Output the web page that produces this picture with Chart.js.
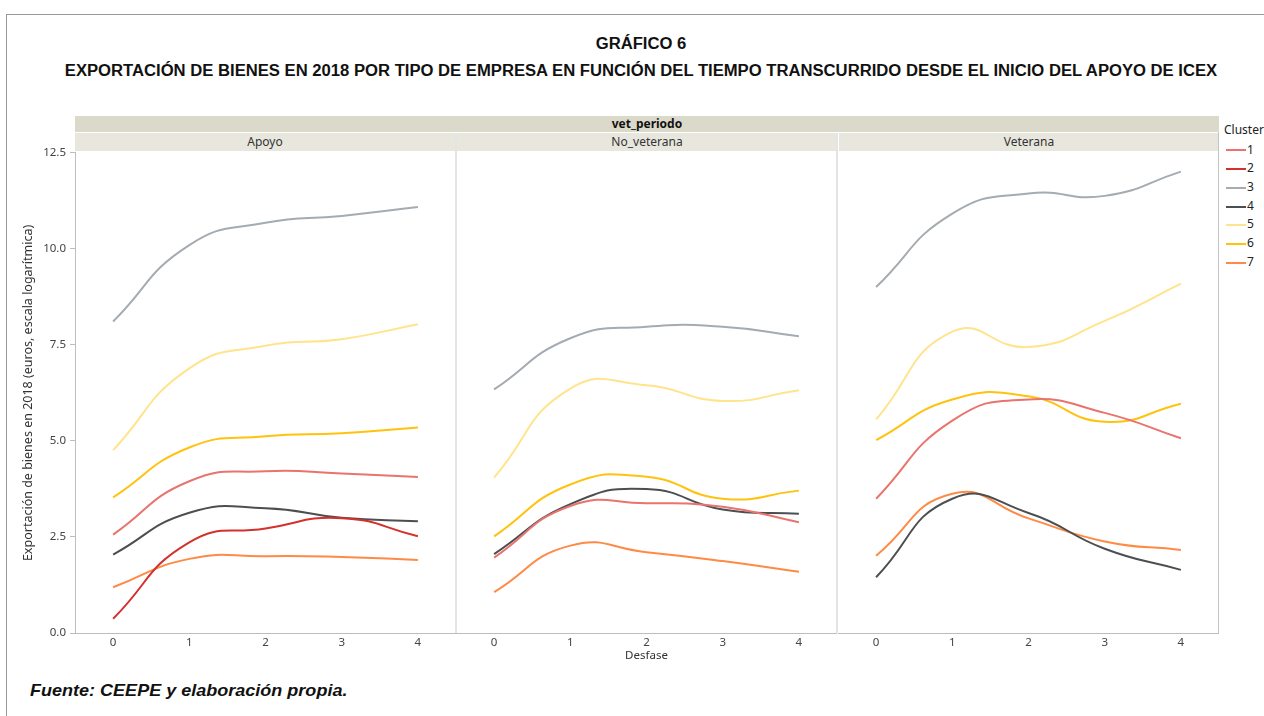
<!DOCTYPE html>
<html>
<head>
<meta charset="utf-8">
<script src="https://cdn.jsdelivr.net/npm/chart.js@4"></script>
<style>
  body { margin: 0; width: 1264px; height: 716px; background: #fff; overflow: hidden; position: relative; font-family: 'Noto Sans', sans-serif; }
  .frame { position: absolute; left: 6px; top: 14px; width: 1270px; height: 720px; border-left: 1px solid #9a9a9a; border-top: 1px solid #9a9a9a; }
  .t1, .t2 { position: absolute; left: 0; width: 1282px; text-align: center; font-family: 'Liberation Sans', Arial, sans-serif; font-weight: bold; color: #111; white-space: nowrap; }
  .t1 { top: 35px; font-size: 16px; transform: scaleX(1.04); }
  .t2 { top: 62px; font-size: 16px; transform: scaleX(1.04); }
  .src { position: absolute; left: 30px; top: 681px; font-family: 'Liberation Sans', Arial, sans-serif; font-weight: bold; font-style: italic; font-size: 17px; color: #111; transform: scaleX(1.06); transform-origin: left center; }
  .strip-top { position: absolute; left: 75px; top: 116px; width: 1144px; height: 16px; background: #dbd9ca; font-size: 12px; font-weight: bold; text-align: center; line-height: 16px; color: #111; }
  .strip { position: absolute; top: 133px; height: 18px; background: #e8e7de; font-size: 12px; text-align: center; line-height: 18px; color: #333; }
  .panel { position: absolute; top: 142px; }
  .sep { position: absolute; top: 133px; width: 2px; height: 500px; background: #e4e4e4; }
  .legend { position: absolute; left: 1224px; top: 121px; font-size: 12px; color: #222; }
  .legend .row { height: 18.7px; line-height: 18.7px; white-space: nowrap; }
  .legend .sw { display: inline-block; width: 20px; height: 2px; vertical-align: middle; margin-left: 2px; margin-right: 1px; }
</style>
</head>
<body>
<div class="frame"></div>
<div class="t1">GRÁFICO 6</div>
<div class="t2">EXPORTACIÓN DE BIENES EN 2018 POR TIPO DE EMPRESA EN FUNCIÓN DEL TIEMPO TRANSCURRIDO DESDE EL INICIO DEL APOYO DE ICEX</div>
<div class="strip-top">vet_periodo</div>
<div id="strips"></div>
<div id="panels"></div>
<div class="sep" style="left:455px"></div>
<div class="sep" style="left:836px"></div>
<div class="sep" style="left:1218px; width:1px; background:#c4c4c4; top:132px; height:502px"></div>
<div class="legend" id="legend"></div>
<div class="src">Fuente: CEEPE y elaboración propia.</div>
<script>
const desfase = ['0', '1', '2', '3', '4'];
const clusters = ['1', '2', '3', '4', '5', '6', '7'];
const panels = ['Apoyo', 'No_veterana', 'Veterana'];

// values per cluster (1..7), null where the cluster has no line in that panel
const apoyo = [
  [2.56, 3.95, 4.21, 4.15, 4.06],
  [0.37, 2.36, 2.72, 2.99, 2.52],
  [8.11, 10.10, 10.68, 10.86, 11.09],
  [2.04, 3.13, 3.25, 3.00, 2.91],
  [4.76, 6.89, 7.48, 7.65, 8.04],
  [3.53, 4.83, 5.12, 5.20, 5.35],
  [1.19, 1.93, 2.00, 1.98, 1.90]
];
const noVeterana = [
  [1.96, 3.30, 3.37, 3.28, 2.88],
  null,
  [6.33, 7.66, 7.96, 7.96, 7.71],
  [2.05, 3.35, 3.74, 3.21, 3.10],
  [4.04, 6.35, 6.44, 6.03, 6.31],
  [2.51, 3.86, 4.06, 3.49, 3.70],
  [1.06, 2.27, 2.10, 1.87, 1.59]
];
const veterana = [
  [3.49, 5.52, 6.07, 5.72, 5.06],
  null,
  [8.99, 10.90, 11.42, 11.36, 11.99],
  [1.45, 3.49, 3.12, 2.19, 1.64],
  [5.55, 7.83, 7.43, 8.11, 9.08],
  [5.01, 6.07, 6.15, 5.49, 5.96],
  [2.01, 3.62, 2.98, 2.38, 2.16]
];
const yTicks = [0, 2.5, 5, 7.5, 10, 12.5];

const colors = ['#e9736d', '#d4302c', '#a4abb1', '#4b4f52', '#ffe48c', '#ffc20e', '#ff8a45'];
const panelData = [apoyo, noVeterana, veterana];
const panelLeft = [0, 456, 838];
const panelWidth = [456, 381, 381];
const tickFont = { family: 'Noto Sans', size: 11.5 };

document.getElementById('legend').innerHTML = '<div class="row" style="margin-bottom:1px">Cluster</div>' +
  clusters.map((c, k) => `<div class="row"><span class="sw" style="background:${colors[k]}"></span>${c}</div>`).join('');

document.getElementById('strips').innerHTML = panels.map((p, i) => {
  const left = i === 0 ? 75 : panelLeft[i] + 1;
  return `<div class="strip" style="left:${left}px;width:380px">${p}</div>`;
}).join('');

panels.forEach((p, i) => {
  const wrap = document.createElement('div');
  wrap.className = 'panel';
  wrap.style.left = panelLeft[i] + 'px';
  const cv = document.createElement('canvas');
  cv.width = panelWidth[i];
  cv.height = 521;
  wrap.appendChild(cv);
  document.getElementById('panels').appendChild(wrap);

  const datasets = [];
  panelData[i].forEach((vals, k) => {
    if (!vals) return;
    datasets.push({ label: clusters[k], data: vals, borderColor: colors[k], borderWidth: 2, pointRadius: 0, tension: 0.5, fill: false });
  });

  new Chart(cv, {
    type: 'line',
    data: { labels: desfase, datasets },
    options: {
      responsive: false, animation: false,
      layout: { padding: { top: 10, right: 0, left: 0, bottom: 0 } },
      plugins: { legend: { display: false }, tooltip: { enabled: false } },
      scales: {
        x: {
          type: 'category', offset: true,
          grid: { display: false, drawTicks: false },
          border: { display: true, color: '#bdbdbd', width: 1 },
          ticks: { font: tickFont, color: '#444', padding: 3, maxRotation: 0 },
          title: { display: i === 1, text: 'Desfase', font: tickFont, color: '#333', padding: { top: 0, bottom: 0 } },
          afterFit: s => { s.height = 30; }
        },
        y: {
          display: i === 0, min: 0, max: 12.5,
          afterBuildTicks: s => { s.ticks = yTicks.map(v => ({ value: v })); },
          ticks: { font: tickFont, color: '#444', padding: 4, callback: v => Number(v).toFixed(1) },
          grid: { drawOnChartArea: false, tickLength: 5, color: '#bdbdbd' },
          border: { display: true, color: '#bdbdbd', width: 1 },
          title: { display: true, text: 'Exportación de bienes en 2018 (euros, escala logarítmica)', font: { family: 'Noto Sans', size: 12.5 }, color: '#333', padding: { top: 21, bottom: 0 } },
          afterFit: s => { s.width = i === 0 ? 75 : 0; }
        }
      }
    }
  });
});
</script>
</body>
</html>
